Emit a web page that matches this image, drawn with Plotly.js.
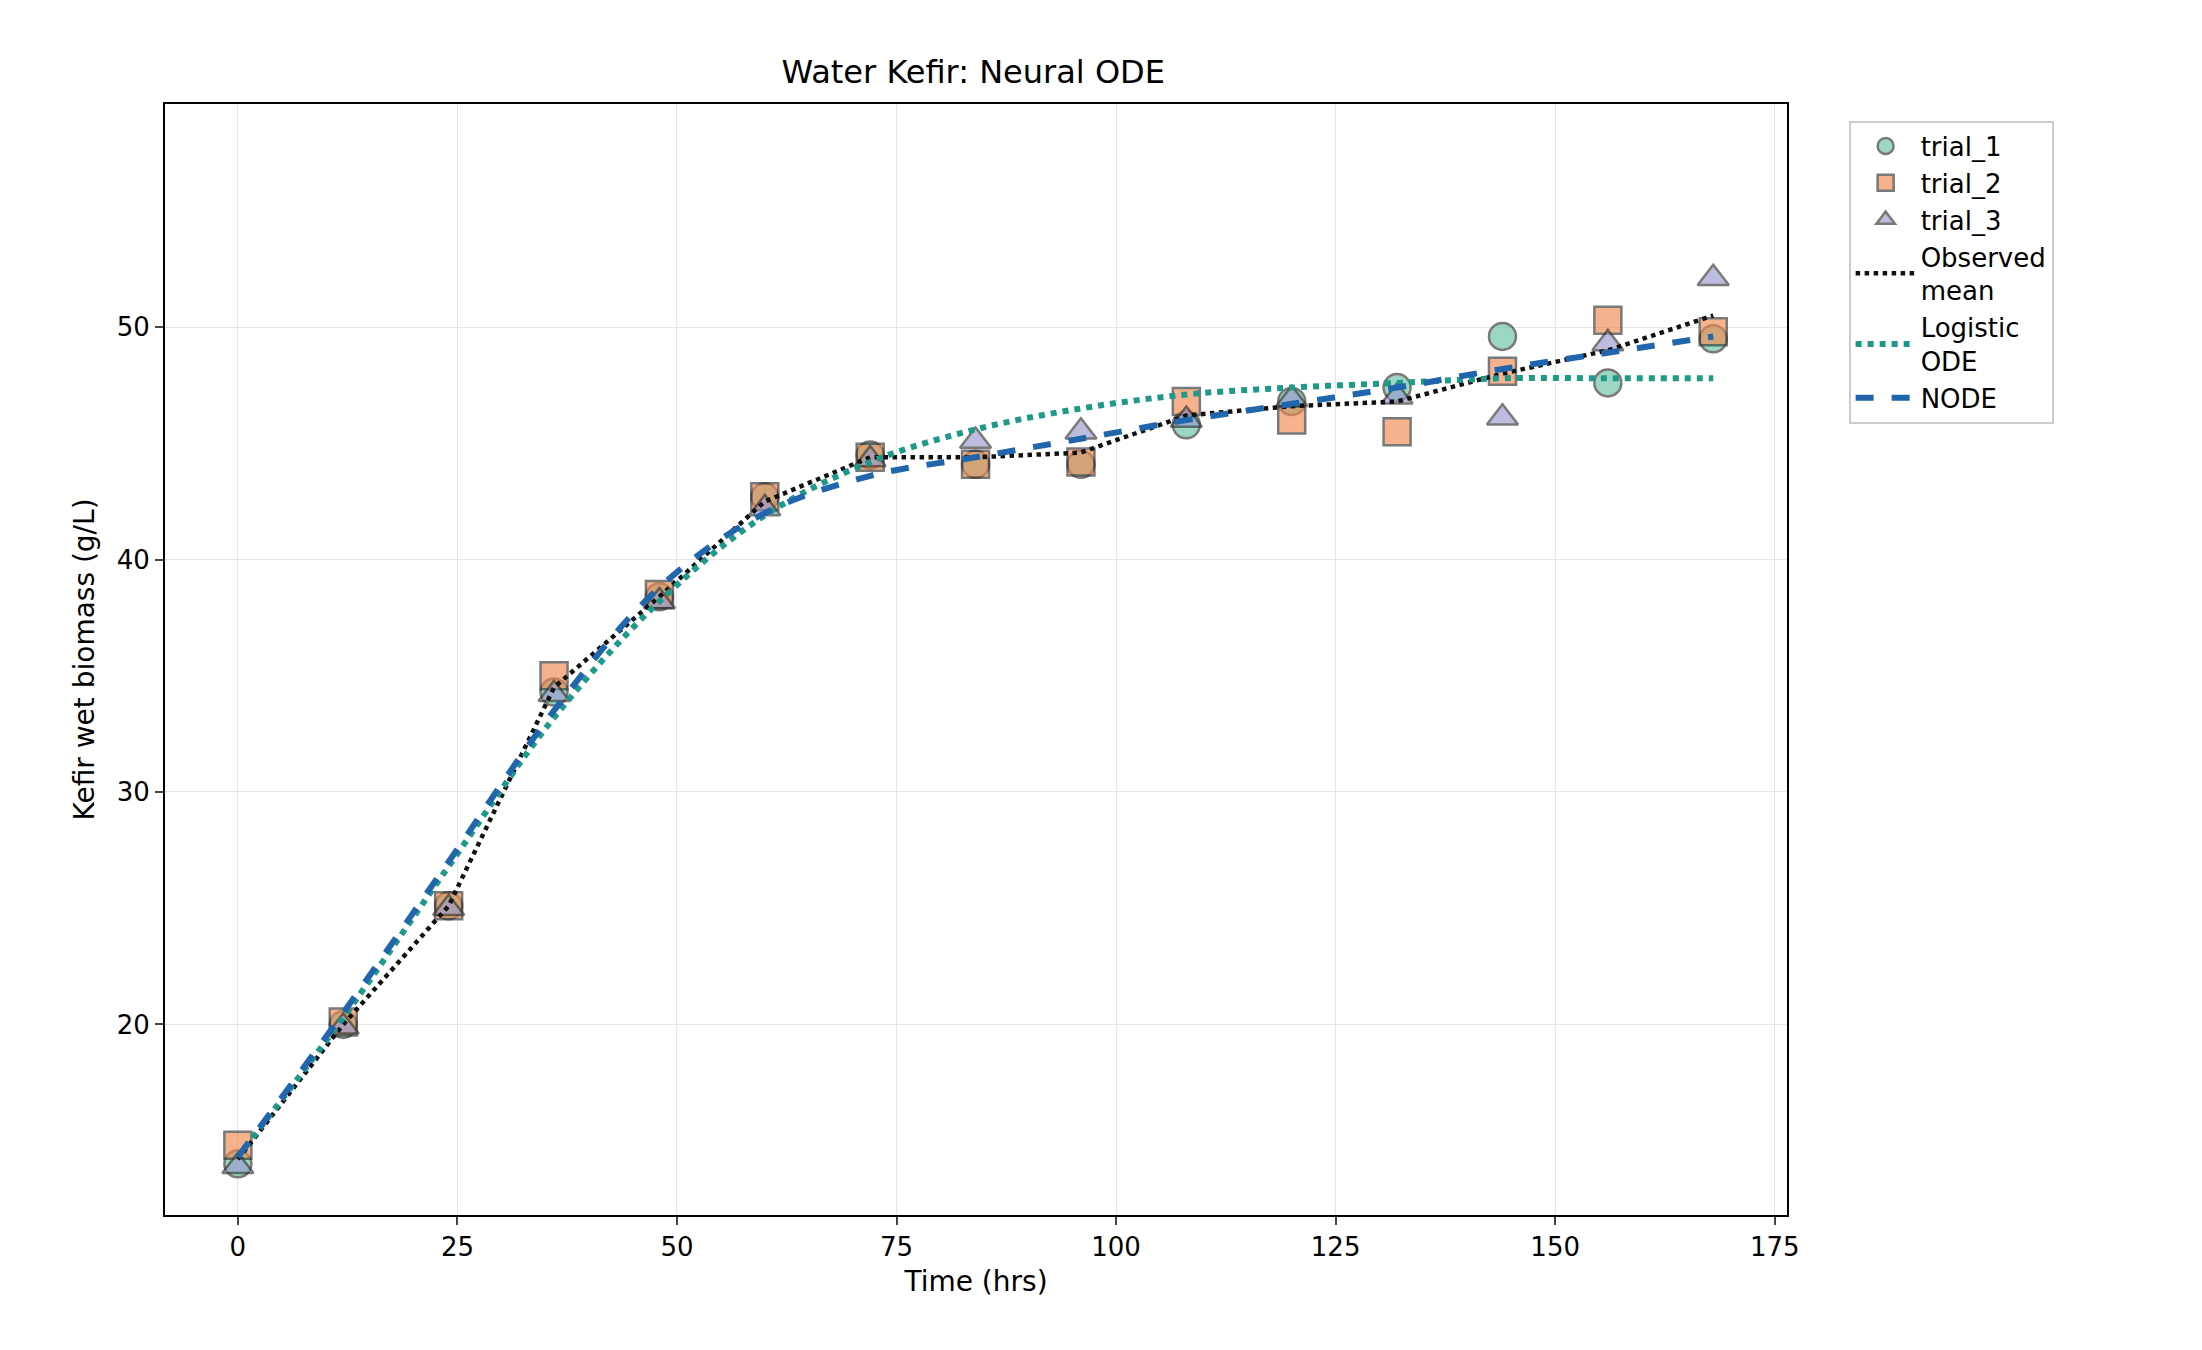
<!DOCTYPE html>
<html>
<head>
<script src="https://cdn.plot.ly/plotly-3.0.1.min.js"></script>
<style>body{margin:0;background:#fff}#chart{width:2202px;height:1350px}</style>
</head>
<body>
<div id="chart"></div>
<script>
// time points (hrs)
var hours = [0, 12, 24, 36, 48, 60, 72, 84, 96, 108, 120, 132, 144, 156, 168];

// biomass
var trial1 = [14.0, 20.0, 25.1, 34.3, 38.4, 42.7, 44.5, 44.1, 44.1, 45.8, 46.8, 47.4, 49.6, 47.6, 49.5];
var trial2 = [14.8, 20.1, 25.1, 35.0, 38.5, 42.7, 44.4, 44.1, 44.2, 46.8, 46.0, 45.5, 48.1, 50.3, 49.8];
var trial3 = [13.9, 19.9, 25.0, 34.2, 38.2, 42.2, 44.3, 45.1, 45.5, 46.0, 46.9, 47.0, 46.1, 49.3, 52.1];
var obsMean = [14.2, 20.0, 25.1, 34.5, 38.4, 42.5, 44.4, 44.4, 44.6, 46.2, 46.6, 46.8, 48.0, 49.0, 50.5];
var logistic = [14.3, 20.3, 26.8, 33.2, 38.2, 41.9, 44.2, 45.6, 46.5, 47.1, 47.4, 47.6, 47.8, 47.8, 47.8];
var node = [14.3, 20.5, 27.0, 33.5, 38.8, 42.0, 43.6, 44.4, 45.2, 46.0, 46.7, 47.4, 48.2, 48.9, 49.6];

function markers(name, y, sym, col) {
  return {
    x: hours, y: y, name: name, type: "scatter", mode: "markers",
    marker: { symbol: sym, size: 27, color: col, opacity: 0.65,
      line: { color: "#333", width: 2.5 } }
  };
}

var data = [
  markers("trial_1", trial1, "circle", "#66c2a5"),
  markers("trial_2", trial2, "square", "#f0894f"),
  markers("trial_3", trial3, "triangle-up", "#9a9ad0"),
  { x: hours, y: obsMean, name: "Observed<br>mean", mode: "lines",
    line: { color: "#111", width: 4.5, dash: "dot" } },
  { x: hours, y: logistic, name: "Logistic<br>ODE", mode: "lines",
    line: { color: "#1f9a8a", width: 6, dash: "dot", shape: "spline" } },
  { x: hours, y: node, name: "NODE", mode: "lines",
    line: { color: "#2166ac", width: 6, dash: "dash", shape: "spline" } }
];

var layout = {
  width: 2202, height: 1350,
  margin: { l: 165, r: 415, t: 104, b: 135 },
  font: { family: "DejaVu Sans", size: 26, color: "#000" },
  title: { text: "Water Kefir: Neural ODE", font: { size: 32 }, x: 0.442, xanchor: "center", y: 0.955 },
  xaxis: {
    title: { text: "Time (hrs)", font: { size: 28 }, standoff: 10 },
    range: [-8.3, 176.4], tickvals: [0, 25, 50, 75, 100, 125, 150, 175],
    showgrid: true, gridcolor: "#e6e6e6", zeroline: false,
    showline: true, mirror: true, linecolor: "#000", linewidth: 2,
    ticks: "outside", ticklen: 8, tickwidth: 2
  },
  yaxis: {
    title: { text: "Kefir wet biomass (g/L)", font: { size: 28 }, standoff: 14 },
    range: [11.8, 59.6], tickvals: [20, 30, 40, 50],
    showgrid: true, gridcolor: "#e6e6e6", zeroline: false,
    showline: true, mirror: true, linecolor: "#000", linewidth: 2,
    ticks: "outside", ticklen: 8, tickwidth: 2
  },
  legend: {
    x: 1.038, y: 0.985, xanchor: "left", yanchor: "top",
    bordercolor: "#ccc", borderwidth: 2, font: { size: 26 },
    itemwidth: 60, tracegroupgap: 8
  },
  plot_bgcolor: "#fff", paper_bgcolor: "#fff"
};

Plotly.newPlot("chart", data, layout, { displayModeBar: false });
</script>
</body>
</html>
